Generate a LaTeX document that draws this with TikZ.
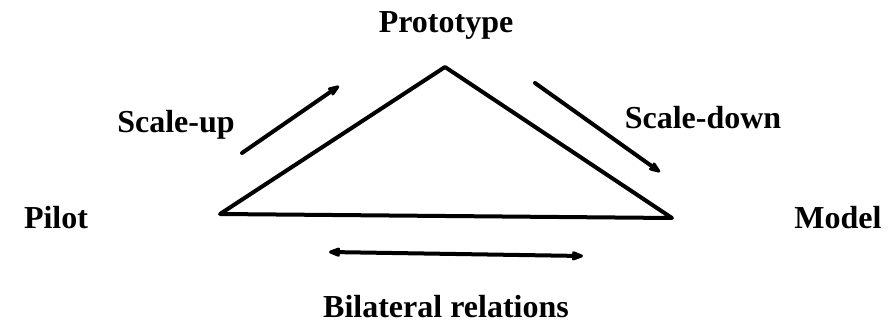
\documentclass[tikz,border=0pt]{standalone}
\usepackage{fontspec}
\setmainfont{Liberation Serif}
\usetikzlibrary{arrows.meta}
\begin{document}
\begin{tikzpicture}[x=1pt,y=-1pt,
  lbl/.style={font=\fontsize{32}{36}\selectfont\bfseries, anchor=base, inner sep=0pt},
  edge/.style={line width=4pt, line join=round, line cap=round},
  tip/.style={Stealth[length=16pt,width=12pt,inset=4pt,round]},
  arr/.style={line width=4pt, line cap=round, -{Stealth[length=16pt,width=12pt,inset=4pt,round]}},
  barr/.style={line width=4pt, {Stealth[length=16pt,width=12pt,inset=4pt,round]}-{Stealth[length=16pt,width=12pt,inset=4pt,round]}}]
\useasboundingbox (0,0) rectangle (895,327);
\coordinate (L) at (220,214);
\coordinate (T) at (445,67);
\coordinate (R) at (672,218);
\draw[edge] (L) -- (T) -- (R) -- cycle;
\node[lbl] (proto) at (446,32) {Prototype};
\node[lbl] (up) at (176,132) {Scale-up};
\node[lbl] (down) at (703,128) {Scale-down};
\node[lbl] (pilot) at (56,228) {Pilot};
\node[lbl] (model) at (838,228) {Model};
\node[lbl] (bil) at (446,317) {Bilateral relations};
\coordinate (u1) at (242,153);
\coordinate (u2) at (339,86);
\coordinate (d1) at (535,83);
\coordinate (d2) at (660,172);
\coordinate (b1) at (329,252);
\coordinate (b2) at (583,256);
\draw[arr] (u1) -- (u2);
\draw[arr] (d1) -- (d2);
\draw[barr] (b1) -- (b2);
\end{tikzpicture}
\end{document}
